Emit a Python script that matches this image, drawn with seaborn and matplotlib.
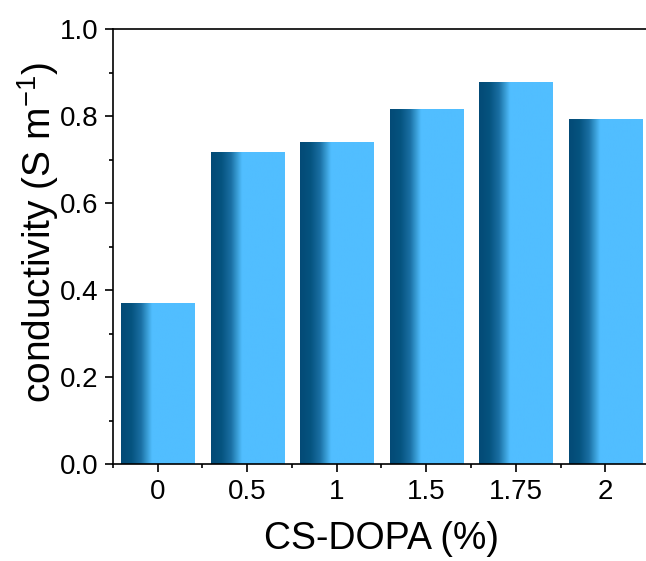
import numpy as np
import pandas as pd
import matplotlib
matplotlib.use("Agg")
import matplotlib.pyplot as plt
from matplotlib.colors import LinearSegmentedColormap
from matplotlib.ticker import MultipleLocator, FixedLocator, FormatStrFormatter
import seaborn as sns

categories = ["0", "0.5", "1", "1.5", "1.75", "2"]
conductivity = [0.368, 0.715, 0.740, 0.816, 0.878, 0.791]

sns.set_style("ticks")
plt.rcParams["font.family"] = ["Liberation Sans", "DejaVu Sans"]
plt.rcParams["mathtext.default"] = "regular"
plt.rcParams["text.color"] = "black"
plt.rcParams["axes.labelcolor"] = "black"
plt.rcParams["xtick.color"] = "black"
plt.rcParams["ytick.color"] = "black"

df = pd.DataFrame({"dopa": categories, "cond": conductivity})

fig = plt.figure(figsize=(6.46, 5.61), dpi=100)
ax = fig.add_axes([0.1745, 0.1729, 0.832, 0.7754])

sns.barplot(data=df, x="dopa", y="cond", ax=ax, width=0.815,
            color="#51BEFF", edgecolor="none", linewidth=0, saturation=1)

grad_cmap = LinearSegmentedColormap.from_list(
    "bargrad",
    [(0.0, "#034a76"), (0.14, "#05537f"), (0.27, "#1a6fa3"),
     (0.36, "#3a9fd8"), (0.42, "#51BEFF"), (1.0, "#51BEFF")])
grad = np.linspace(0, 1, 256).reshape(1, -1)

for p in list(ax.patches):
    x0, y0 = p.get_x(), p.get_y()
    w, h = p.get_width(), p.get_height()
    ax.imshow(grad, cmap=grad_cmap, aspect="auto",
              extent=(x0, x0 + w, y0, y0 + h), zorder=p.get_zorder() + 0.1,
              interpolation="bilinear")
    p.set_visible(False)

ax.set_xlim(-0.5, len(categories) - 0.5)
ax.set_ylim(0, 1.0)
ax.yaxis.set_major_locator(MultipleLocator(0.2))
ax.yaxis.set_minor_locator(MultipleLocator(0.1))
ax.yaxis.set_major_formatter(FormatStrFormatter("%.1f"))
ax.xaxis.set_minor_locator(FixedLocator(np.arange(-0.5, len(categories), 1.0)))

for s in ["left", "bottom", "top"]:
    ax.spines[s].set_visible(True)
    ax.spines[s].set_linewidth(1.2)
    ax.spines[s].set_color("black")
ax.spines["right"].set_visible(False)

ax.tick_params(axis="both", which="major", direction="out", length=6, width=1.2,
               labelsize=20, color="black", labelcolor="black", top=False, right=False)
ax.tick_params(axis="both", which="minor", direction="out", length=3, width=1.2,
               color="black", top=False, right=False)
ax.tick_params(axis="x", which="major", pad=5)
ax.tick_params(axis="y", which="major", pad=4)

ax.set_xlabel("CS-DOPA (%)", fontsize=27, labelpad=11, color="black")
ax.set_ylabel("conductivity (S m$^{-1}$)", fontsize=28, color="black")
ax.yaxis.set_label_coords(-0.097, 0.533)

fig.savefig("out.png", dpi=100)
